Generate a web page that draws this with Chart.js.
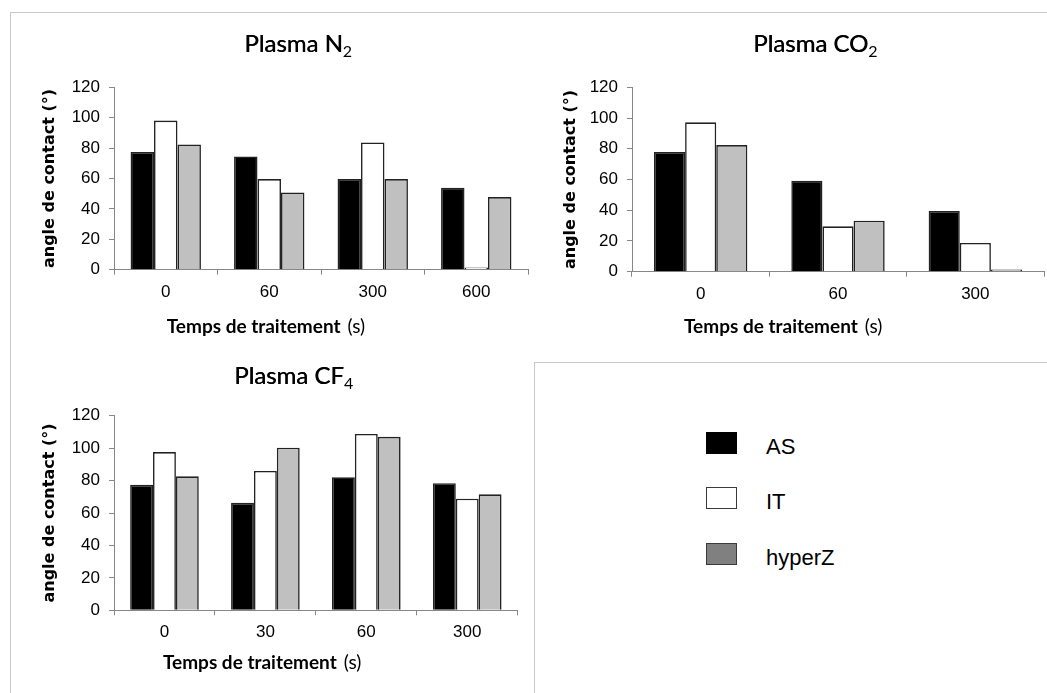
<!DOCTYPE html>
<html>
<head>
<meta charset="utf-8">
<script src="https://cdn.jsdelivr.net/npm/chart.js@4.4.0/dist/chart.umd.min.js"></script>
<style>
    body { margin: 0; background: #fff; width: 1047px; height: 693px; overflow: hidden; position: relative; font-family: 'Liberation Sans', Arial, sans-serif; }
    .frame { position: absolute; left: 10px; top: 12px; width: 1100px; height: 800px; border-top: 1px solid #c8c8c8; border-left: 1px solid #c8c8c8; }
    .legendBox { position: absolute; left: 534px; top: 362px; width: 600px; height: 400px; border-top: 1px solid #c8c8c8; border-left: 1px solid #c8c8c8; }
    canvas { position: absolute; }
    .legendItem { position: absolute; left: 706px; height: 22px; }
    .swatch { position: absolute; left: 0; top: 0; width: 31px; height: 22px; box-sizing: border-box; }
    .legendItem span { position: absolute; left: 60px; top: 2px; font-size: 22px; color: #000; white-space: nowrap; }
</style>
</head>
<body>
<div class="frame"></div>
<div class="legendBox"></div>
<canvas id="n2Chart" width="524" height="338" style="left:10px; top:12px;"></canvas>
<canvas id="co2Chart" width="513" height="338" style="left:534px; top:12px;"></canvas>
<canvas id="cf4Chart" width="524" height="343" style="left:10px; top:350px;"></canvas>
<div id="legend"></div>
<script>
// data (contact angle in degrees)
const seriesNames = ['AS', 'IT', 'hyperZ'];
const barColors = ['#000000', '#ffffff', '#c0c0c0'];
const legendColors = ['#000000', '#ffffff', '#808080'];

const n2Times = ['0', '60', '300', '600'];
const n2AS = [77.5, 74.5, 59.6, 53.9];
const n2IT = [98.1, 59.6, 83.7, 1.5];
const n2HyperZ = [82.4, 50.8, 59.6, 47.8];

const co2Times = ['0', '60', '300'];
const co2AS = [77.9, 59.2, 39.5];
const co2IT = [97.2, 29.5, 18.7];
const co2HyperZ = [82.4, 33.2, 1.5];

const cf4Times = ['0', '30', '60', '300'];
const cf4AS = [77.4, 66.3, 82.0, 78.4];
const cf4IT = [97.6, 85.9, 108.7, 68.8];
const cf4HyperZ = [82.6, 100.3, 107.0, 71.5];

const yMin = 0;
const yMax = 120;
const yStep = 20;
const yTitle = 'angle de contact (°)';
const xTitle = 'Temps de traitement';
const xUnit = '(s)';

const axisColor = '#878787';

Chart.defaults.font.family = "'Liberation Sans', Arial, sans-serif";

// draws the panel title (with subscript) and the two-part x axis title
const panelText = {
    id: 'panelText',
    afterDraw(chart, args, opts) {
        const ctx = chart.ctx;
        const a = chart.chartArea;
        ctx.save();
        ctx.fillStyle = '#000';
        ctx.textBaseline = 'alphabetic';
        ctx.textAlign = 'left';

        ctx.font = '24px Lato';
        const w1 = ctx.measureText(opts.title).width;
        ctx.font = '16px Lato';
        const w2 = ctx.measureText(opts.sub).width;
        const tx = a.left + a.width * 0.445 - (w1 + w2) / 2;
        const ty = a.top - opts.titleGap;
        ctx.font = '24px Lato';
        ctx.fillText(opts.title, tx, ty);
        ctx.fillText(opts.title, tx + 0.4, ty);
        ctx.font = '16px Lato';
        ctx.fillText(opts.sub, tx + w1, ty + 5);

        ctx.font = 'bold 19px Lato';
        const w3 = ctx.measureText(xTitle).width;
        ctx.font = '19px Lato';
        const w4 = ctx.measureText(xUnit).width;
        const gap = 7;
        const xx = a.left + a.width * 0.367 - (w3 + gap + w4) / 2;
        const xy = a.bottom + opts.xTitleGap;
        ctx.font = 'bold 19px Lato';
        ctx.fillText(xTitle, xx, xy);
        ctx.font = '19px Lato';
        ctx.fillText(xUnit, xx + w3 + gap, xy);
        ctx.restore();
    }
};

function makeChart(id, labels, asData, itData, hzData, cfg) {
    const values = [asData, itData, hzData];
    return new Chart(document.getElementById(id), {
        type: 'bar',
        data: {
            labels: labels,
            datasets: seriesNames.map((name, i) => ({
                label: name,
                data: values[i],
                backgroundColor: barColors[i],
                borderColor: '#222',
                borderWidth: 1.6,
                categoryPercentage: 0.68,
                barPercentage: 1
            }))
        },
        options: {
            responsive: false,
            animation: false,
            layout: {padding: {top: cfg.top, right: cfg.right, left: 0, bottom: 0}},
            plugins: {
                legend: {display: false},
                tooltip: {enabled: false},
                panelText: {title: cfg.title, sub: cfg.sub, titleGap: cfg.titleGap, xTitleGap: cfg.xTitleGap}
            },
            scales: {
                x: {
                    grid: {drawOnChartArea: false, drawTicks: true, tickLength: 5, color: axisColor, offset: true},
                    border: {color: axisColor, width: 1},
                    ticks: {color: '#000', font: {size: 17}, padding: 7, maxRotation: 0},
                    afterFit: function (scale) { scale.height = cfg.xHeight; }
                },
                y: {
                    min: yMin,
                    max: yMax,
                    ticks: {stepSize: yStep, color: '#000', font: {size: 17}, padding: 9},
                    grid: {drawOnChartArea: false, tickLength: 5, color: axisColor},
                    border: {color: axisColor, width: 1},
                    title: {
                        display: true,
                        text: yTitle,
                        color: '#000',
                        font: {family: 'DejaVu Sans', weight: 'bold', size: 16},
                        padding: {top: cfg.yTitlePad, bottom: 0}
                    },
                    afterFit: function (scale) { scale.width = cfg.yWidth; }
                }
            }
        },
        plugins: [panelText]
    });
}

makeChart('n2Chart', n2Times, n2AS, n2IT, n2HyperZ, {
    title: 'Plasma N', sub: '2', top: 75.3, right: 6, xHeight: 80.3, yWidth: 104,
    yTitlePad: 29.9, titleGap: 35, xTitleGap: 63.5
});
makeChart('co2Chart', co2Times, co2AS, co2IT, co2HyperZ, {
    title: 'Plasma CO', sub: '2', top: 75.3, right: 3, xHeight: 78.3, yWidth: 98,
    yTitlePad: 27.4, titleGap: 35, xTitleGap: 61.5
});
makeChart('cf4Chart', cf4Times, cf4AS, cf4IT, cf4HyperZ, {
    title: 'Plasma CF', sub: '4', top: 65.7, right: 16.3, xHeight: 82.7, yWidth: 104,
    yTitlePad: 29.9, titleGap: 31.4, xTitleGap: 59
});

// legend
const legendTops = [432, 487, 542.7];
const legend = document.getElementById('legend');
seriesNames.forEach((name, i) => {
    const item = document.createElement('div');
    item.classList.add('legendItem');
    item.style.top = legendTops[i] + 'px';
    const sw = document.createElement('div');
    sw.classList.add('swatch');
    sw.style.background = legendColors[i];
    sw.style.border = i === 0 ? '1px solid #000' : '1.5px solid #3a3a3a';
    const label = document.createElement('span');
    label.textContent = name;
    item.appendChild(sw);
    item.appendChild(label);
    legend.appendChild(item);
});
</script>
</body>
</html>
